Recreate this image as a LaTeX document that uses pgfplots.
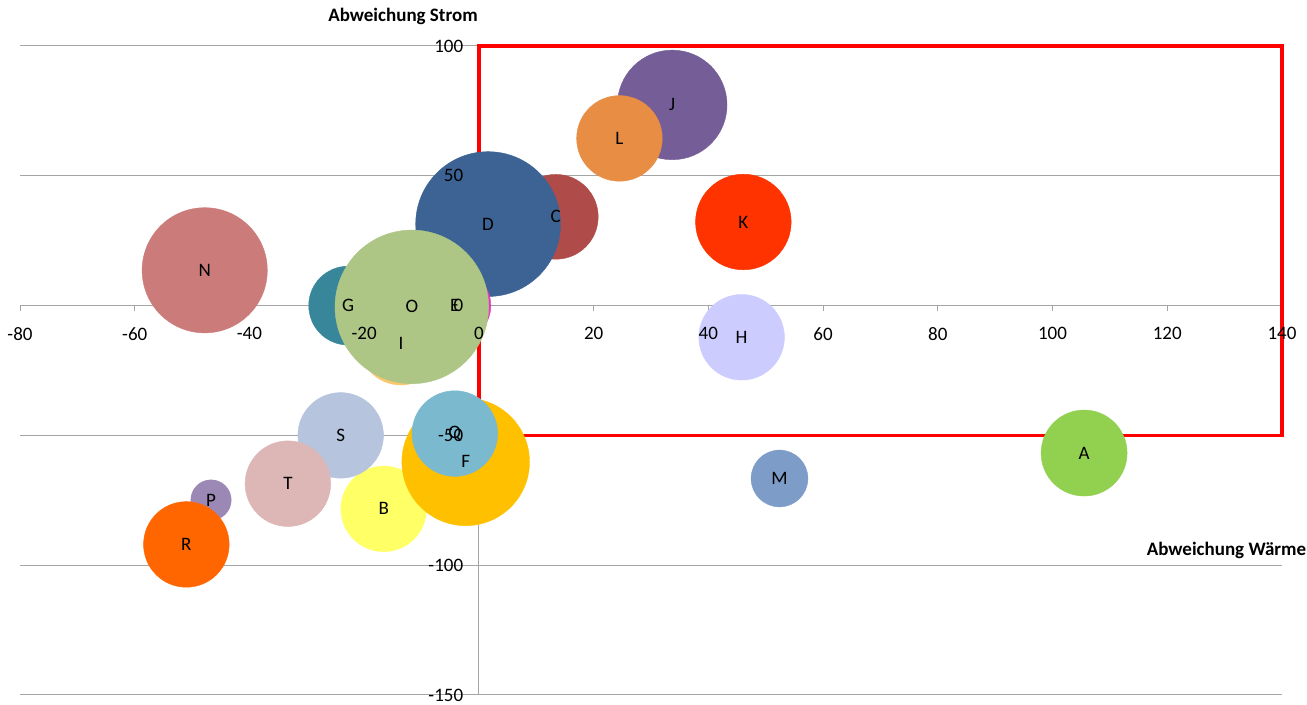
\documentclass[border=0pt]{standalone}
\usepackage{fontspec}
\setmainfont{Carlito}
\usepackage{pgfplots}
\usepackage{pgfplotstable}
\pgfplotsset{compat=1.18}

\definecolor{gridgray}{RGB}{165,165,165}
\definecolor{boxred}{RGB}{255,0,0}
\definecolor{cA}{RGB}{146,208,80}
\definecolor{cB}{RGB}{255,255,102}
\definecolor{cC}{RGB}{175,75,72}
\definecolor{cD}{RGB}{60,99,148}
\definecolor{cE}{RGB}{228,60,190}
\definecolor{cF}{RGB}{255,192,0}
\definecolor{cG}{RGB}{56,134,153}
\definecolor{cH}{RGB}{204,204,255}
\definecolor{cI}{RGB}{250,200,110}
\definecolor{cJ}{RGB}{117,93,151}
\definecolor{cK}{RGB}{255,51,0}
\definecolor{cL}{RGB}{232,141,68}
\definecolor{cM}{RGB}{126,156,200}
\definecolor{cN}{RGB}{203,124,122}
\definecolor{cO}{RGB}{173,197,133}
\definecolor{cP}{RGB}{155,136,181}
\definecolor{cQ}{RGB}{123,185,207}
\definecolor{cR}{RGB}{255,102,0}
\definecolor{cS}{RGB}{182,196,222}
\definecolor{cT}{RGB}{221,182,182}

% like the standard layer set, but tick labels above the plots
\pgfplotsset{
  layers/bubblelayers/.define layer set={
    axis background,axis grid,axis ticks,axis lines,main,
    axis tick labels,axis descriptions,axis foreground
  }{
    grid style={/pgfplots/on layer=axis grid},
    tick style={/pgfplots/on layer=axis ticks},
    axis line style={/pgfplots/on layer=axis lines},
    label style={/pgfplots/on layer=axis descriptions},
    ticklabel style={/pgfplots/on layer=axis tick labels},
  },
}

% name, x = Abweichung Waerme, y = Abweichung Strom, r = bubble radius (pt)
\pgfplotstableread{
name x y r
A 105.5 -56.8 21.5
B -16.6 -78.3 21.4
C 13.4 34.2 21.2
D 1.6 31.4 36.2
E -4.2 0.0 18.0
F -2.3 -60.2 31.9
G -22.8 0.0 19.7
H 45.8 -12.2 21.4
I -13.6 -14.4 21.0
J 33.7 77.3 27.4
K 46.1 32.2 23.9
L 24.5 64.4 21.4
M 52.4 -66.6 14.2
N -47.8 13.6 31.3
O -11.7 -0.5 38.4
P -46.7 -74.9 10.1
Q -4.2 -49.3 21.4
R -51.0 -92.0 21.4
S -24.1 -50.0 21.4
T -33.3 -68.6 21.4
}\bubbles

\begin{document}
\fontsize{9.5}{11}\selectfont
\begin{tikzpicture}
\begin{axis}[
  at={(0,0)}, anchor=south west,
  scale only axis, width=631pt, height=324.5pt,
  set layers=bubblelayers,
  xmin=-80, xmax=140, ymin=-150, ymax=100,
  axis lines=middle,
  axis line style={gridgray, line width=0.5pt, -},
  xtick={-80,-60,...,140}, ytick={-150,-100,...,100},
  hide obscured x ticks=false, hide obscured y ticks=false,
  ymajorgrids,
  grid style={gridgray, line width=0.5pt},
  tick style={gridgray, line width=0.5pt},
  tick align=outside, major tick length=2.5pt,
  /pgf/number format/assume math mode=true,
  xticklabel style={yshift=-5pt},
  yticklabel style={xshift=-2pt},
  xlabel={Abweichung Wärme},
  ylabel={Abweichung Strom},
  every axis x label/.style={at={(axis description cs:1.0245,0.2234)}, anchor=east, font=\bfseries},
  every axis y label/.style={at={(axis description cs:0.3035,1.0462)}, anchor=center, font=\bfseries},
  clip=false,
]
  % bubbles, drawn in row order
  \addplot[scatter, only marks, mark=*,
    point meta=explicit symbolic,
    scatter/classes={
      A={cA}, B={cB}, C={cC}, D={cD}, E={cE}, F={cF}, G={cG},
      H={cH}, I={cI}, J={cJ}, K={cK}, L={cL}, M={cM}, N={cN},
      O={cO}, P={cP}, Q={cQ}, R={cR}, S={cS}, T={cT}},
    mark options={line width=0.2pt},
    visualization depends on={\thisrow{r} \as \rad},
    scatter/@pre marker code/.append style={/tikz/mark size=\rad},
  ] table[x=x, y=y, meta=name] {\bubbles};

  % letters on top of all bubbles
  \addplot[draw=none, mark=none,
    nodes near coords, point meta=explicit symbolic,
    nodes near coords align=center,
    every node near coord/.append style={text=black, inner sep=0pt},
  ] table[x=x, y=y, meta=name] {\bubbles};

  % red frame
  \addplot[boxred, line width=1.7pt, mark=none, line join=miter]
    coordinates {(0,100) (140,100) (140,-50) (0,-50)} --cycle;
\end{axis}
\pgfresetboundingbox
\path[use as bounding box] (-10pt,-5pt) rectangle (643.5pt,347.5pt);
\end{tikzpicture}
\end{document}
